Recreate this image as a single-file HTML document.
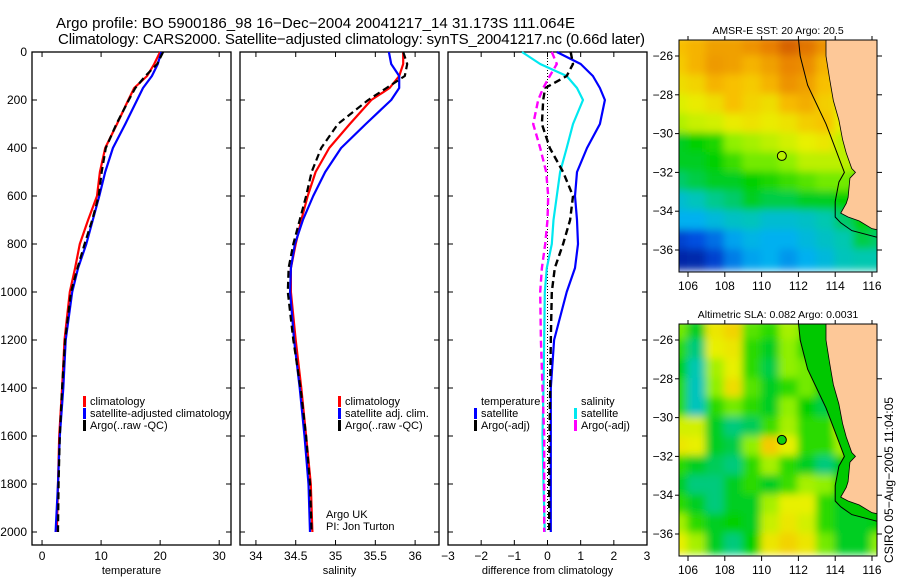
<!DOCTYPE html>
<html><head><meta charset="utf-8"><style>
html,body{margin:0;padding:0;background:#fff;}
svg{display:block;font-family:"Liberation Sans",sans-serif;}
</style></head><body>
<svg id="fig" width="900" height="580" viewBox="0 0 900 580" xmlns="http://www.w3.org/2000/svg">
<defs>
<clipPath id="clipM1"><rect x="679" y="40" width="198" height="232"/></clipPath>
<clipPath id="clipM2"><rect x="679" y="324" width="198" height="232"/></clipPath>
<filter id="blur" x="-5%" y="-5%" width="110%" height="110%"><feGaussianBlur stdDeviation="4"/></filter>
</defs>
<text x="56" y="28" font-size="15" textLength="519">Argo profile: BO 5900186_98 16−Dec−2004 20041217_14 31.173S 111.064E</text>
<text x="58" y="44" font-size="15" textLength="587">Climatology: CARS2000. Satellite−adjusted climatology: synTS_20041217.nc (0.66d later)</text>
<g id="panels"></g>
<g id="maps"></g>
<text transform="translate(893,480) rotate(-90)" text-anchor="middle" font-size="12">CSIRO 05−Aug−2005 11:04:05</text>
</svg>
<script>
// ---------- profile data ----------
const depths = [0,50,100,150,200,300,400,500,600,700,800,900,1000,1200,1400,1600,1800,2000];
const tempClim = [20.0,19.0,17.8,15.6,14.6,12.7,10.7,9.8,9.3,7.8,6.4,5.6,4.7,3.8,3.4,2.9,2.7,2.5];
const tempSat  = [20.2,19.6,18.6,17.1,16.1,14.1,12.0,10.7,9.7,8.6,7.5,6.1,5.1,4.0,3.6,3.0,2.7,2.3];
const tempArgo = [20.5,19.5,17.5,15.8,14.7,12.6,10.8,10.1,9.6,8.5,7.2,6.0,4.9,3.9,3.4,3.0,2.8,2.7];
const salClim = [35.85,35.85,35.8,35.68,35.45,35.18,34.92,34.75,34.65,34.57,34.5,34.44,34.44,34.5,34.57,34.63,34.69,34.71];
const salSat  = [35.67,35.7,35.8,35.8,35.7,35.38,35.07,34.87,34.72,34.59,34.49,34.44,34.43,34.48,34.55,34.61,34.66,34.68];
const salArgo = [35.85,35.9,35.87,35.64,35.41,35.03,34.82,34.7,34.63,34.55,34.47,34.41,34.4,34.47,34.56,34.63,34.68,34.7];
const diffTempSat  = [0.28,1.0,1.37,1.58,1.73,1.58,1.19,0.89,0.83,0.89,0.92,0.83,0.58,0.2,0.1,0.1,0.1,0.1];
const diffSalSat   = [-0.77,-0.22,0.58,0.89,1.07,0.77,0.58,0.38,0.28,0.18,0.13,-0.02,-0.08,-0.1,-0.12,-0.15,-0.12,-0.08];
const diffTempArgo = [0.7,0.77,0.58,-0.07,-0.13,-0.17,0.07,0.47,0.77,0.68,0.47,0.22,0.13,0.1,0.08,0.06,0.05,0.05];
const diffSalArgo  = [0.13,0.28,0.07,-0.13,-0.28,-0.43,-0.22,-0.04,0.02,0.0,-0.07,-0.17,-0.22,-0.2,-0.15,-0.1,-0.1,-0.1];
const tempTicks = [0,10,20,30];
const salTicks = [34,34.5,35,35.5,36];
const diffTicks = [-3,-2,-1,0,1,2,3];
const depthTicks = [0,200,400,600,800,1000,1200,1400,1600,1800,2000];

// ---------- map data (rows lat -25.5..-36.5, cols lon 105.5..116.5) ----------
const sstGrid = [
[.8,.82,.85,.85,.87,.9,.93,.91,.87,.88,.9,.9],
[.78,.82,.86,.85,.82,.85,.89,.88,.82,.8,.85,.85],
[.74,.76,.82,.8,.78,.82,.87,.85,.8,.75,.8,.8],
[.69,.71,.74,.8,.76,.74,.81,.83,.77,.72,.75,.75],
[.65,.67,.68,.71,.73,.71,.73,.77,.79,.7,.7,.7],
[.5,.52,.54,.62,.64,.66,.68,.7,.72,.66,.68,.7],
[.5,.5,.52,.56,.6,.6,.62,.66,.66,.66,.64,.65],
[.46,.48,.5,.5,.52,.54,.56,.58,.6,.6,.55,.55],
[.36,.4,.44,.46,.5,.48,.48,.5,.5,.52,.52,.5],
[.3,.3,.34,.38,.4,.36,.36,.38,.42,.46,.52,.5],
[.12,.15,.2,.28,.32,.3,.3,.34,.38,.42,.48,.46],
[.05,.06,.12,.22,.28,.3,.26,.3,.34,.4,.42,.42]];
const slaGrid = [
[.6,.5,.72,.76,.58,.55,.64,.6,.52,.52,.52,.52],
[.55,.45,.7,.72,.55,.5,.62,.55,.52,.52,.52,.52],
[.52,.42,.64,.7,.55,.48,.62,.6,.52,.52,.52,.52],
[.55,.4,.62,.74,.58,.5,.55,.6,.52,.52,.52,.52],
[.55,.4,.55,.6,.55,.5,.62,.52,.48,.5,.52,.52],
[.68,.68,.5,.45,.47,.56,.64,.55,.55,.68,.5,.52],
[.72,.7,.5,.48,.62,.78,.7,.55,.55,.64,.52,.52],
[.55,.5,.47,.45,.55,.64,.55,.5,.45,.52,.52,.52],
[.5,.45,.45,.5,.55,.5,.56,.64,.62,.52,.5,.52],
[.55,.5,.45,.5,.5,.64,.7,.7,.55,.5,.5,.52],
[.64,.55,.5,.52,.5,.67,.72,.68,.55,.5,.5,.52],
[.7,.64,.5,.45,.52,.72,.76,.72,.6,.5,.5,.62]];
const lonTicks = [106,108,110,112,114,116];
const latTicks = [-26,-28,-30,-32,-34,-36];
const coastLon = [113.5,113.5,113.7,113.9,114.2,114.4,114.6,114.9,115.1,114.8,114.7,114.6,114.3,114.7,115.3,116.0,116.5];
const coastLat = [-25.1,-26,-27.2,-28.3,-29.3,-30.3,-31.0,-31.8,-32.0,-32.3,-33.3,-33.6,-34.1,-34.3,-34.5,-34.9,-35.0];
const isoLon = [112.0,112.1,112.5,113.0,113.5,113.9,114.3,114.5,114.2,114.0,114.0,114.3,114.9,116.5];
const isoLat = [-25.1,-26,-27.5,-28.5,-29.5,-30.5,-31.5,-32,-32.5,-33.5,-34.3,-34.6,-35.0,-35.4];
const argoLon = 111.1, argoLat = -31.15;

const NS='http://www.w3.org/2000/svg';
function mk(tag, attrs, parent, txt){const e=document.createElementNS(NS,tag);for(const k in attrs)e.setAttribute(k,attrs[k]);if(txt!==undefined)e.textContent=txt;parent.appendChild(e);return e;}
const yD = d => 52 + 0.24*d;
const Y0=52, Y1=545;

function panel(name, x0, x1, xmin, xmax, xt, xtLabels, title, showY){
  const g = mk('g',{},document.getElementById('panels'));
  
  
  const xs = v => x0 + (v - xmin)/(xmax - xmin)*(x1 - x0);
  const box = mk('rect',{x:x0,y:Y0,width:x1-x0,height:Y1-Y0,fill:'none',stroke:'#000','stroke-width':1.3},g);
  
  
  xt.forEach((v,i)=>{
    const x=xs(v);
    mk('line',{x1:x,x2:x,y1:Y1,y2:Y1-5,stroke:'#000'},g);
    mk('line',{x1:x,x2:x,y1:Y0,y2:Y0+5,stroke:'#000'},g);
    const t=mk('text',{x:x,y:560,'font-size':12,'text-anchor':'middle'},g,xtLabels[i]);
    
    
  });
  depthTicks.forEach(d=>{
    const y=yD(d);
    mk('line',{x1:x0,x2:x0+5,y1:y,y2:y,stroke:'#000'},g);
    mk('line',{x1:x1,x2:x1-5,y1:y,y2:y,stroke:'#000'},g);
    if(showY){const t=mk('text',{x:27,y:y+4,'font-size':12,'text-anchor':'end'},g,String(d));
      
      }
  });
  const at=mk('text',{x:(x0+x1)/2,y:574,'font-size':11,'text-anchor':'middle'},g,title);
  
  
  return {g,xs};
}
function line(p, vals, color, dash, nm, w){
  const pts = vals.map((v,i)=>p.xs(v).toFixed(1)+','+yD(depths[i]).toFixed(1)).join(' ');
  const a={points:pts,fill:'none',stroke:color,'stroke-width':w||2.2,'stroke-linejoin':'round'};
  if(dash)a['stroke-dasharray']=dash;
  const e=mk('polyline',a,p.g);
  
  
}
function legend(g, x, y, items){
  items.forEach((it,i)=>{
    const yy=y+i*12;
    if(it.c){const r=mk('rect',{x:x,y:yy-9,width:3,height:11,fill:it.c},g);
      
      }
    const t=mk('text',{x:x+7,y:yy,'font-size':11},g,it.t);
    
    
  });
}

const p1 = panel('temperature',32,231,-1.7,32,tempTicks,tempTicks.map(String),'temperature',true);
line(p1,tempClim,'#ff0000',null,'temp-climatology-line');
line(p1,tempSat,'#0000ff',null,'temp-satellite-line');
line(p1,tempArgo,'#000',"7,4",'temp-argo-line');
legend(p1.g,83,405,[{c:'#ff0000',t:'climatology'},{c:'#0000ff',t:'satellite-adjusted climatology'},{c:'#000',t:'Argo(..raw -QC)'}]);

const p2 = panel('salinity',240,439,33.8,36.3,salTicks,['34','34.5','35','35.5','36'],'salinity',false);
line(p2,salClim,'#ff0000',null,'sal-climatology-line');
line(p2,salSat,'#0000ff',null,'sal-satellite-line');
line(p2,salArgo,'#000',"7,4",'sal-argo-line');
legend(p2.g,338,405,[{c:'#ff0000',t:'climatology'},{c:'#0000ff',t:'satellite adj. clim.'},{c:'#000',t:'Argo(..raw -QC)'}]);
legend(p2.g,319,518,[{t:'Argo UK'},{t:'PI: Jon Turton'}]);

const p3 = panel('difference',448,647,-3,3,diffTicks,['−3','−2','−1','0','1','2','3'],'difference from climatology',false);
mk('line',{x1:p3.xs(0),x2:p3.xs(0),y1:yD(0),y2:yD(2000),stroke:'#000','stroke-dasharray':'1,2'},p3.g);
line(p3,diffTempSat,'#0000ff',null,'diff-temp-satellite-line',2.2);
line(p3,diffSalSat,'#00e8f0',null,'diff-sal-satellite-line',2.2);
line(p3,diffTempArgo,'#000',"7,4",'diff-temp-argo-line',2.4);
line(p3,diffSalArgo,'#ff00ff',"7,4",'diff-sal-argo-line',2.4);
legend(p3.g,474,405,[{t:'temperature'},{c:'#0000ff',t:'satellite'},{c:'#000',t:'Argo(-adj)'}]);
legend(p3.g,574,405,[{t:'salinity'},{c:'#00e8f0',t:'satellite'},{c:'#ff00ff',t:'Argo(-adj)'}]);

// ---------- maps ----------
const stops=[[0,[0,16,138]],[0.15,[0,80,224]],[0.3,[0,176,240]],[0.42,[0,200,176]],[0.52,[0,208,0]],[0.62,[144,240,0]],[0.7,[232,240,0]],[0.8,[248,192,0]],[0.9,[232,128,0]],[1,[176,32,0]]];
function cmap(v){for(let i=1;i<stops.length;i++){if(v<=stops[i][0]){const a=stops[i-1],b=stops[i],t=(v-a[0])/(b[0]-a[0]);return 'rgb('+a[1].map((c,j)=>Math.round(c+(b[1][j]-c)*t)).join(',')+')';}}return 'rgb(176,32,0)';}
function mapPanel(name, top, grid, title, clip, shelf, markColor){
  const g=mk('g',{},document.getElementById('maps'));
  
  
  const px = lon => 688 + (lon-106)*18.4;
  const py = lat => top+16 + (-26-lat)*19.4;
  const cg=mk('g',{'clip-path':'url(#'+clip+')'},g);
  const fg=mk('g',{filter:'url(#blur)'},cg);
  grid.forEach((row,r)=>row.forEach((v,c)=>{
    const lon=105+c, lat=-25-r;
    const e=mk('rect',{x:px(lon)-1,y:py(lat)-1,width:20.4,height:21.4,fill:cmap(v)},fg);
    
    
  }));
  const iso=coastLon.map((l,i)=>px(l)+','+py(coastLat[i]));
  const isoPts=isoLon.map((l,i)=>px(l).toFixed(1)+','+py(isoLat[i]).toFixed(1));
  if(shelf){
    const sp=isoPts.concat([px(117)+','+py(-35.4),px(117)+','+py(-25)]).join(' ');
    mk('polygon',{points:sp,fill:'#00c800'},cg);
  }
  const land=mk('polygon',{points:iso.concat([px(117)+','+py(-35.0),px(117)+','+py(-25)]).join(' '),fill:'#fdc898',stroke:'#000','stroke-width':0.8},cg);
  
  
  const il=mk('polyline',{points:isoPts.join(' '),fill:'none',stroke:'#000','stroke-width':1},cg);
  
  
  const mkr=mk('circle',{cx:px(argoLon),cy:py(argoLat),r:4.5,fill:markColor,stroke:'#000','stroke-width':1},g);
  
  
  mk('rect',{x:679,y:top,width:198,height:232,fill:'none',stroke:'#000','stroke-width':1},g);
  lonTicks.forEach(l=>{const x=px(l);
    mk('line',{x1:x,x2:x,y1:top+232,y2:top+237,stroke:'#000'},g);
    mk('line',{x1:x,x2:x,y1:top,y2:top-4,stroke:'#000'},g);
    const t=mk('text',{x:x,y:top+250,'font-size':12,'text-anchor':'middle'},g,String(l));
    
    });
  latTicks.forEach(l=>{const y=py(l);
    mk('line',{x1:679,x2:675,y1:y,y2:y,stroke:'#000'},g);
    mk('line',{x1:877,x2:882,y1:y,y2:y,stroke:'#000'},g);
    const t=mk('text',{x:673,y:y+4,'font-size':12,'text-anchor':'end'},g,'−'+String(-l));
    
    });
  const tt=mk('text',{x:778,y:top-6,'font-size':10.5,'text-anchor':'middle'},g,title);
  
  
}
mapPanel('sst-map',40,sstGrid,'AMSR-E SST: 20 Argo: 20.5','clipM1',false,'#b8f000');
mapPanel('sla-map',324,slaGrid,'Altimetric SLA: 0.082 Argo: 0.0031','clipM2',true,'#10d010');
</script>
</body></html>
